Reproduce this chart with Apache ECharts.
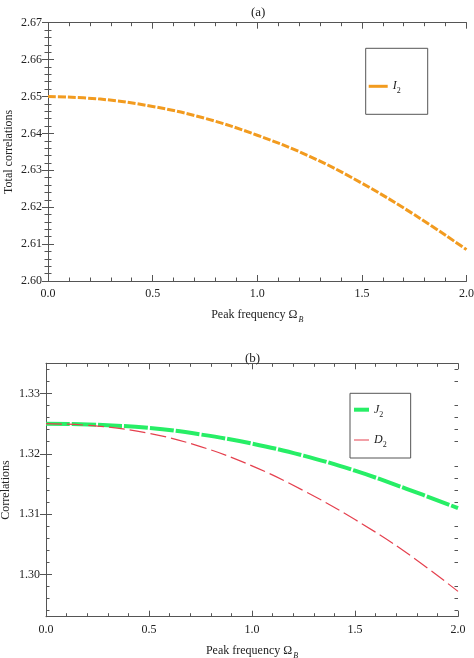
<!DOCTYPE html>
<html lang="en">
<head>
    <meta charset="UTF-8">
    <title>Correlations vs peak frequency</title>
    <script src="https://cdn.jsdelivr.net/npm/echarts@6.0.0/dist/echarts.min.js"></script>
    <style>
        html, body { margin: 0; padding: 0; background: #fff; }
        #chart { width: 474px; height: 658px; }
    </style>
</head>
<body>
<div id="chart"></div>
<script>
    // values
    const omegaB = [0, 0.25, 0.5, 0.75, 1.0, 1.25, 1.5, 1.75, 2.0];
    const i2 = [2.6500, 2.6493, 2.6473, 2.6441, 2.6395, 2.6338, 2.6265, 2.6180, 2.6085];
    const j2 = [1.3250, 1.3248, 1.3243, 1.3232, 1.3217, 1.3197, 1.3172, 1.3142, 1.3110];
    const d2 = [1.3250, 1.3246, 1.3234, 1.3212, 1.3180, 1.3139, 1.3091, 1.3036, 1.2972];

    const yTicksB = [1.30, 1.31, 1.32, 1.33];
    const yMinorB = [1.294, 1.296, 1.298, 1.302, 1.304, 1.306, 1.308, 1.312, 1.314, 1.316, 1.318,
                     1.322, 1.324, 1.326, 1.328, 1.332, 1.334];

    const font = 'Liberation Serif';
    const ink = '#555';
    const pairs = (xs, ys) => xs.map((x, i) => [x, ys[i]]);

    const sub = {
        n: { fontFamily: font, fontSize: 12, color: '#222' },
        i: { fontFamily: font, fontSize: 12, fontStyle: 'italic', color: '#222' },
        s: { fontFamily: font, fontSize: 8, color: '#222', verticalAlign: 'bottom', padding: [0, 0, -3, 0] },
        si: { fontFamily: font, fontSize: 8, fontStyle: 'italic', color: '#222', verticalAlign: 'bottom', padding: [0, 0, -3, 1] }
    };

    function xAxisPair(grid) {
        const base = {
            gridIndex: grid, type: 'value', min: 0, max: 2, interval: 0.5,
            axisLine: { show: true, lineStyle: { color: ink, width: 1 } },
            axisTick: { show: true, inside: true, length: 6, lineStyle: { color: ink } },
            minorTick: { show: true, splitNumber: 5, length: 3.5, lineStyle: { color: ink } },
            splitLine: { show: false }
        };
        return [
            Object.assign({}, base, {
                position: 'bottom',
                axisLabel: { fontFamily: font, fontSize: 12, color: '#222', margin: 7,
                    formatter: v => v.toFixed(1) },
                name: '{n|Peak frequency Ω}{si|B}',
                nameLocation: 'middle',
                nameGap: 28,
                nameMoveOverlap: false,
                nameTextStyle: { rich: sub }
            }),
            Object.assign({}, base, { position: 'top', axisLabel: { show: false } })
        ];
    }

    function plainY(grid, pos, extra) {
        return Object.assign({
            gridIndex: grid, type: 'value', position: pos,
            axisLine: { show: true, lineStyle: { color: ink, width: 1 } },
            axisTick: { show: true, inside: true, length: 6, lineStyle: { color: ink } },
            splitLine: { show: false },
            axisLabel: { show: false }
        }, extra);
    }

    const yLabel = { fontFamily: font, fontSize: 12, color: '#222', margin: 6, formatter: v => v.toFixed(2) };
    const yName = { fontFamily: font, fontSize: 12, color: '#222' };

    // panel (a)
    const yA = {
        min: 2.60, max: 2.67, interval: 0.01,
        minorTick: { show: true, splitNumber: 5, length: 3.5, lineStyle: { color: ink } }
    };
    // panel (b)
    const yB = { min: 1.293, max: 1.335 };

    const option = {
        backgroundColor: '#fff',
        animation: false,
        title: [
            { text: '(a)', left: 246, top: 1, textStyle: { fontFamily: font, fontSize: 13, fontWeight: 'normal', color: '#222' } },
            { text: '(b)', left: 240, top: 347, textStyle: { fontFamily: font, fontSize: 13, fontWeight: 'normal', color: '#222' } }
        ],
        grid: [
            { left: 48, top: 22.7, width: 418.5, height: 258.3, outerBoundsMode: 'none' },
            { left: 46, top: 363.3, width: 412, height: 253.4, outerBoundsMode: 'none' }
        ],
        legend: [
            {
                left: 365.7, top: 48.3,
                data: [{ name: 'I2', icon: 'path://M0,0h19v3h-19z' }],
                orient: 'vertical', itemWidth: 19, itemHeight: 14,
                padding: [32, 27, 19, 3],
                borderColor: ink, borderWidth: 1,
                formatter: () => '{i|I}{s|2}',
                textStyle: { rich: sub }
            },
            {
                left: 350, top: 393.3,
                data: [
                    { name: 'J2', icon: 'path://M0,0h15v4h-15z' },
                    { name: 'D2', icon: 'path://M0,0h15v1h-15z' }
                ],
                orient: 'vertical', itemWidth: 15, itemHeight: 14, itemGap: 15.3,
                padding: [10.4, 24, 9, 4],
                borderColor: ink, borderWidth: 1,
                formatter: name => '{i|' + name.charAt(0) + '}{s|2}',
                textStyle: { rich: sub }
            }
        ],
        xAxis: [...xAxisPair(0), ...xAxisPair(1)],
        yAxis: [
            plainY(0, 'left', Object.assign({}, yA, {
                axisLabel: yLabel,
                name: 'Total correlations', nameLocation: 'middle', nameGap: 33,
                nameMoveOverlap: false, nameTextStyle: yName
            })),
            plainY(0, 'right', yA),
            plainY(1, 'left', Object.assign({}, yB, {
                axisTick: { show: true, inside: true, length: 6, lineStyle: { color: ink }, customValues: yTicksB },
                axisLabel: Object.assign({}, yLabel, { customValues: yTicksB }),
                name: 'Correlations', nameLocation: 'middle', nameGap: 34,
                nameMoveOverlap: false, nameTextStyle: yName
            })),
            plainY(1, 'right', Object.assign({}, yB, {
                axisTick: { show: true, inside: true, length: 6, lineStyle: { color: ink }, customValues: yTicksB }
            })),
            plainY(1, 'left', Object.assign({}, yB, {
                offset: 0,
                axisLine: { show: false },
                axisTick: { show: true, inside: true, length: 3.5, lineStyle: { color: ink }, customValues: yMinorB }
            })),
            plainY(1, 'right', Object.assign({}, yB, {
                offset: 0,
                axisLine: { show: false },
                axisTick: { show: true, inside: true, length: 3.5, lineStyle: { color: ink }, customValues: yMinorB }
            }))
        ],
        series: [
            {
                name: 'I2', type: 'line', xAxisIndex: 0, yAxisIndex: 0,
                data: pairs(omegaB, i2), smooth: 0.4, symbol: 'none',
                lineStyle: { color: '#F29B1F', width: 3, type: [8, 2] },
                itemStyle: { color: '#F29B1F' }
            },
            {
                name: 'J2', type: 'line', xAxisIndex: 2, yAxisIndex: 2,
                data: pairs(omegaB, j2), smooth: 0.4, symbol: 'none', z: 3,
                lineStyle: { color: '#27EE66', width: 4, type: [24, 2] },
                itemStyle: { color: '#27EE66' }
            },
            {
                name: 'D2', type: 'line', xAxisIndex: 2, yAxisIndex: 2,
                data: pairs(omegaB, d2), smooth: 0.4, symbol: 'none', z: 4,
                lineStyle: { color: '#E5404E', width: 1.2, type: [16, 5] },
                itemStyle: { color: '#E5404E' }
            }
        ]
    };

    const myChart = echarts.init(document.getElementById('chart'));
    myChart.setOption(option);
</script>
</body>
</html>
